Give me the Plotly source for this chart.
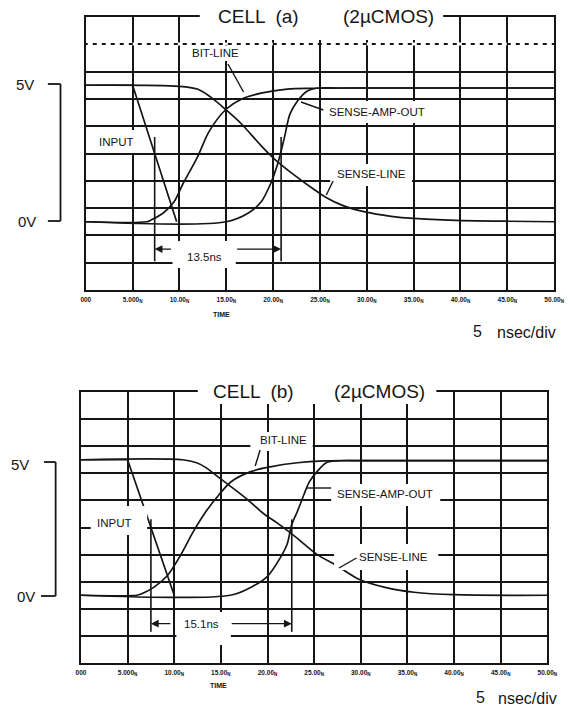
import plotly.graph_objects as go

# ---------------- data (time in ns, level in volts) ----------------
ticks_ns = [0, 5, 10, 15, 20, 25, 30, 35, 40, 45, 50]
tick_text = ["000", "5.000<sub>N</sub>", "10.00<sub>N</sub>", "15.00<sub>N</sub>",
             "20.00<sub>N</sub>", "25.00<sub>N</sub>", "30.00<sub>N</sub>",
             "35.00<sub>N</sub>", "40.00<sub>N</sub>", "45.00<sub>N</sub>",
             "50.00<sub>N</sub>"]

# CELL (a)
input_a_t = [0, 5.0, 9.7]
input_a_v = [5.0, 5.0, 0.0]
bit_a_t = [0, 6.5, 7.0, 8.3, 9.4, 10.4, 11.9, 13.2, 15.0, 16.6, 18.7, 21.5, 24.3, 30, 50]
bit_a_v = [0, 0, 0.07, 0.33, 0.72, 1.41, 2.36, 3.33, 4.13, 4.49, 4.71, 4.86, 4.89, 4.9, 4.9]
sense_a_t = [0, 10.0, 11.9, 13.2, 15.0, 16.6, 18.7, 20.2, 22.3, 24.3, 25.7, 27.4, 29.8,
             32.6, 35.0, 39.5, 44.7, 50]
sense_a_v = [5.0, 4.96, 4.86, 4.60, 4.09, 3.59, 2.79, 2.28, 1.70, 1.20, 0.88, 0.60, 0.36,
             0.20, 0.12, 0.05, 0.02, 0.0]
amp_a_t = [0, 15.0, 17.4, 18.7, 19.75, 20.5, 21.2, 21.8, 22.6, 23.6, 24.6, 27, 50]
amp_a_v = [0, 0, 0.33, 0.72, 1.41, 2.14, 3.08, 3.95, 4.42, 4.78, 4.89, 4.9, 4.9]
delay_a = 13.5

# CELL (b)
input_b_t = [0, 5.0, 10.0]
input_b_v = [5.0, 5.0, 0.0]
bit_b_t = [0, 6.0, 6.4, 7.8, 9.2, 10.6, 12.0, 13.4, 14.8, 16.1, 18.2, 20.3, 23.2, 26.0, 30, 50]
bit_b_v = [0, 0, 0.04, 0.29, 0.70, 1.43, 2.32, 3.09, 3.71, 4.19, 4.56, 4.74, 4.89, 4.96,
           4.97, 4.97]
sense_b_t = [0, 10.9, 12.4, 13.4, 14.8, 15.8, 17.6, 19.7, 21.1, 23.2, 25.3, 27.4, 29.8,
             32.6, 35.7, 40, 50]
sense_b_v = [5.0, 5.0, 4.89, 4.71, 4.34, 4.08, 3.60, 2.98, 2.65, 2.10, 1.51, 1.10, 0.59,
             0.29, 0.11, 0.02, 0.0]
amp_b_t = [0, 16.0, 18.2, 20.0, 21.4, 22.1, 22.6, 23.2, 23.9, 24.5, 25.3, 26.3, 27.4, 30, 50]
amp_b_v = [0, 0, 0.29, 0.70, 1.40, 1.88, 2.61, 3.09, 3.71, 4.19, 4.56, 4.89, 4.96, 4.97, 4.97]
delay_b = 15.1

# ---------------- page geometry helpers ----------------
W, H = 570, 707
INK = "#151515"
FONT = "Liberation Sans, Arial, sans-serif"


def px(x):
    return x / W


def py(y):
    return 1 - y / H


fig = go.Figure()

panels = [
    dict(xa="x", ya="y", xdom=(83, 564), ydom=(17, 290), name="a",
         series=[(input_a_t, input_a_v, "linear"), (bit_a_t, bit_a_v, "spline"),
                 (sense_a_t, sense_a_v, "spline"), (amp_a_t, amp_a_v, "spline")],
         inp=(input_a_t, input_a_v), delay=delay_a),
    dict(xa="x2", ya="y2", xdom=(78, 557), ydom=(392, 663), name="b",
         series=[(input_b_t, input_b_v, "linear"), (bit_b_t, bit_b_v, "spline"),
                 (sense_b_t, sense_b_v, "spline"), (amp_b_t, amp_b_v, "spline")],
         inp=(input_b_t, input_b_v), delay=delay_b),
]

for p in panels:
    for t, v, shape in p["series"]:
        fig.add_trace(go.Scatter(
            x=t, y=v, mode="lines", xaxis=p["xa"], yaxis=p["ya"],
            line=dict(color=INK, width=1.7, shape=shape, smoothing=0.9),
            showlegend=False, hoverinfo="skip"))

axis_common = dict(showgrid=True, gridcolor=INK, gridwidth=1.7, zeroline=False,
                   showline=True, linecolor=INK, linewidth=2, mirror=True, ticks="")

layout_axes = {}
for i, p in enumerate(panels):
    sfx = "" if i == 0 else str(i + 1)
    layout_axes["xaxis" + sfx] = dict(
        axis_common, domain=[px(p["xdom"][0]), px(p["xdom"][1])], range=[0, 50],
        tickmode="array", tickvals=ticks_ns, ticktext=tick_text,
        tickfont=dict(family=FONT, size=6.5, color=INK, weight="bold"),
        anchor="y" + sfx, ticklabelstandoff=2)
    layout_axes["yaxis" + sfx] = dict(
        axis_common, domain=[py(p["ydom"][1]), py(p["ydom"][0])], range=[-2.5, 7.5],
        tick0=-2.5, dtick=1, showticklabels=False, anchor="x" + sfx)

shapes = []
annotations = []


def white_box(x0, y0, x1, y1):
    shapes.append(dict(type="rect", xref="paper", yref="paper", x0=px(x0), x1=px(x1),
                       y0=py(y1), y1=py(y0), fillcolor="white", line=dict(width=0),
                       layer="above"))


def seg(x0, y0, x1, y1, w=1.4):
    shapes.append(dict(type="line", xref="paper", yref="paper", x0=px(x0), y0=py(y0),
                       x1=px(x1), y1=py(y1), line=dict(color=INK, width=w), layer="above"))


def text(x, y, s, size=12, anchor="center", weight="normal"):
    annotations.append(dict(xref="paper", yref="paper", x=px(x), y=py(y), text=s,
                            showarrow=False, xanchor=anchor, yanchor="middle",
                            font=dict(family=FONT, size=size, color=INK, weight=weight)))


# broken dotted grid row near the top of panel (a)
shapes.append(dict(type="line", xref="paper", yref="paper", x0=px(85), x1=px(562),
                   y0=py(44), y1=py(44), line=dict(color="white", width=3, dash="5px,4px"),
                   layer="above"))

# ----- panel (a) text and gaps -----
white_box(200, 4, 450, 40)
text(260, 16, "CELL  (a)", 19)
text(394, 16, "(2\u00b5CMOS)", 19)
white_box(188, 46, 244, 61)
text(216, 53, "BIT-LINE", 11.5)
seg(229, 64, 245, 92)
white_box(94, 130, 136, 153)
text(115, 142, "INPUT", 11.5)
white_box(326, 101, 440, 123)
text(382, 112, "SENSE-AMP-OUT", 11.5)
seg(304, 102, 327, 110)
white_box(334, 164, 418, 186)
text(376, 174, "SENSE-LINE", 11.5)
seg(337, 181, 330, 195)
white_box(172, 241, 237, 268)
text(205, 257, "13.5ns", 11.5)
text(222, 315, "TIME", 7, weight="bold")
text(485, 331, "5", 16)
text(568, 332, "nsec/div", 16, anchor="right")
text(21, 84, "5V", 15)
text(23, 221, "0V", 15)
seg(44, 84, 57, 84, 1.8)
seg(57, 84, 57, 221, 1.8)
seg(44, 221, 57, 221, 1.8)

# ----- panel (b) text and gaps -----
white_box(198, 380, 443, 404)
text(255, 391, "CELL  (b)", 19)
text(385, 391, "(2\u00b5CMOS)", 19)
white_box(252, 432, 316, 451)
text(286, 440, "BIT-LINE", 11.5)
seg(262, 450, 257, 466)
white_box(88, 506, 146, 535)
text(112, 523, "INPUT", 11.5)
white_box(335, 484, 447, 506)
text(390, 494, "SENSE-AMP-OUT", 11.5)
seg(310, 488, 335, 488)
white_box(338, 544, 445, 570)
text(399, 557, "SENSE-LINE", 11.5)
seg(361, 558, 343, 568)
white_box(176, 612, 232, 645)
text(202, 624, "15.1ns", 11.5)
text(219, 685, "TIME", 7, weight="bold")
text(488, 697, "5", 16)
text(569, 698, "nsec/div", 16, anchor="right")
text(15, 464, "5V", 15)
text(22, 596, "0V", 15)
seg(40, 462, 52, 462, 1.8)
seg(52, 462, 52, 596, 1.8)
seg(37, 596, 52, 596, 1.8)

# ----- delay dimension markers (from the 50 % point of the input swing) -----
marker_spans = {"a": (3.1, -1.45, -1.0, 9.25, 16.0), "b": (2.8, -1.35, -1.05, 9.75, 16.0)}
for p in panels:
    top_v, bot_v, arrow_v, gap_l, gap_r = marker_spans[p["name"]]
    it, iv = p["inp"]
    t_start = (it[1] + it[2]) / 2.0
    t_end = t_start + p["delay"]
    for tx in (t_start, t_end):
        shapes.append(dict(type="line", xref=p["xa"], yref=p["ya"], x0=tx, x1=tx,
                           y0=bot_v, y1=top_v, line=dict(color=INK, width=1.6),
                           layer="above"))
    for head, tail in ((t_start, gap_l), (t_end, gap_r)):
        annotations.append(dict(xref=p["xa"], yref=p["ya"], axref=p["xa"], ayref=p["ya"],
                                x=head, y=arrow_v, ax=tail, ay=arrow_v, text="",
                                showarrow=True, arrowhead=2, arrowsize=1.2,
                                arrowwidth=1.3, arrowcolor=INK))

fig.update_layout(
    width=W, height=H, margin=dict(l=0, r=0, t=0, b=0),
    paper_bgcolor="white", plot_bgcolor="white",
    shapes=shapes, annotations=annotations, showlegend=False,
    **layout_axes)

fig.write_html("out.html")
